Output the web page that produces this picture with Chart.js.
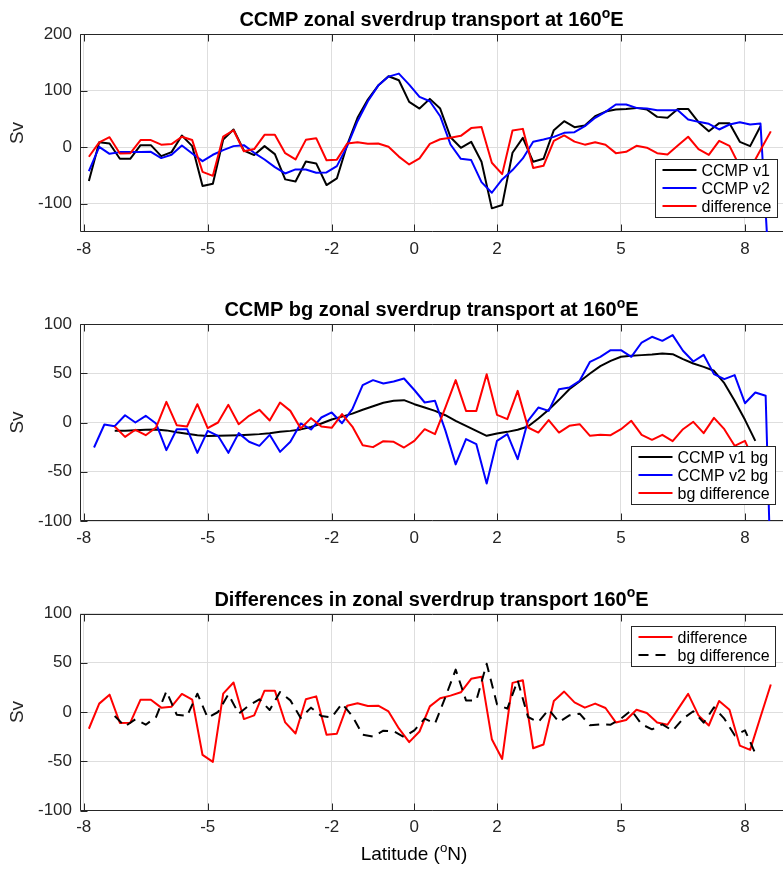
<!DOCTYPE html>
<html><head><meta charset="utf-8">
<script src="https://cdn.jsdelivr.net/npm/chart.js@4.4.0/dist/chart.umd.min.js"></script>
<style>
html,body{margin:0;padding:0;background:#fff;}
#wrap{position:relative;width:783px;height:870px;overflow:hidden;background:#fff;}
canvas{position:absolute;left:0;}
</style></head><body>
<div id="wrap">
<canvas id="c1" width="783" height="290" style="top:0px;width:783px;height:290px"></canvas>
<canvas id="c2" width="783" height="290" style="top:290px;width:783px;height:290px"></canvas>
<canvas id="c3" width="783" height="290" style="top:580px;width:783px;height:290px"></canvas>
</div>
<script>
// ---- data ----
const latA = [-7.875,-7.625,-7.375,-7.125,-6.875,-6.625,-6.375,-6.125,-5.875,-5.625,-5.375,-5.125,-4.875,-4.625,-4.375,-4.125,-3.875,-3.625,-3.375,-3.125,-2.875,-2.625,-2.375,-2.125,-1.875,-1.625,-1.375,-1.125,-0.875,-0.625,-0.375,-0.125,0.125,0.375,0.625,0.875,1.125,1.375,1.625,1.875,2.125,2.375,2.625,2.875,3.125,3.375,3.625,3.875,4.125,4.375,4.625,4.875,5.125,5.375,5.625,5.875,6.125,6.375,6.625,6.875,7.125,7.375,7.625,7.875,8.125,8.375,8.625];
const latB = [-7.75,-7.5,-7.25,-7,-6.75,-6.5,-6.25,-6,-5.75,-5.5,-5.25,-5,-4.75,-4.5,-4.25,-4,-3.75,-3.5,-3.25,-3,-2.75,-2.5,-2.25,-2,-1.75,-1.5,-1.25,-1,-0.75,-0.5,-0.25,0,0.25,0.5,0.75,1,1.25,1.5,1.75,2,2.25,2.5,2.75,3,3.25,3.5,3.75,4,4.25,4.5,4.75,5,5.25,5.5,5.75,6,6.25,6.5,6.75,7,7.25,7.5,7.75,8,8.25,8.5,8.75];

const ccmpV1 = [-60,8.8,6.5,-20.6,-20.6,3.5,3.5,-15.9,-8.8,20.6,1.8,-68.8,-64.7,13.5,31.2,-6,-14,1.8,-12.4,-57,-60.6,-25.3,-28.8,-67,-55.3,4.1,51.8,84.1,108.8,125.3,118.2,80,68.2,85.3,68.2,17.6,-1.2,9.4,-25.9,-108.2,-102.4,-10,16.5,-25.9,-20.6,30,45.9,35.3,38.2,54.7,62.9,66.5,67.6,69.4,66.5,53.5,51.8,67.6,67.6,44.1,28.2,42.4,42.4,9.4,1.8,37,null];
const ccmpV2 = [-42.4,0.6,-11.8,-8.8,-8.8,-8.8,-8.2,-19.4,-13.5,2.9,-11.2,-24.7,-13.5,-5.3,1.8,3.5,-10,-21.8,-35.3,-46.5,-39.4,-39.4,-45.3,-44.7,-33.5,1.8,45.9,81.2,108.8,124.7,130,110.6,88.8,81.2,54.7,4.7,-20.6,-22.9,-61.8,-80.6,-57,-40.6,-20,9.4,13.5,18.2,25.3,26.5,37,51.8,62.4,75.3,75.3,69.4,68.2,65.3,65.3,65.3,48.8,44.7,41.2,31.2,40,44.1,40,41.8,-270];
const difference = [-17,8.5,17.6,-11.2,-11,12.5,12.5,4.4,5.4,18.3,12.5,-43.6,-50.7,18.7,29.9,-7.2,-3.4,21.7,21.7,-10.6,-21.8,12.9,15.9,-23.2,-22.1,6.4,8.8,6.1,6.4,0.6,-16.7,-30.6,-19.8,5.7,13.9,16.6,20,33.7,35.7,-27.6,-47.7,29.6,32.3,-36.8,-33,11.2,20.7,9.8,4.4,8.5,4.1,-10.6,-8.2,2.3,-1,-10.6,-13,2.7,18.4,-3.4,-13.7,11.2,2.3,-34.1,-38.5,-5.1,27.9];

const ccmpV1bg = [null,null,-8.5,-8.3,-7.8,-7.4,-7,-8,-10,-11.5,-13,-13.8,-13.5,-13.3,-13,-12.5,-11.8,-10.8,-9.5,-8.5,-7,-4.5,-1,3,6,9,13,16.5,20,22,22.7,18.6,15.2,11.8,7.4,1.7,-3.4,-8.5,-13.5,-11.2,-9.5,-7.4,-4.1,4.1,12.9,23,33.8,41.6,49.7,57.2,62.6,66.7,67.7,68.4,69,70,69.4,64.3,59.9,56.5,52.5,39.9,22,2.7,-18.6,null,null];
const ccmpV2bg = [-25.4,-2,-3.7,7.4,0,6.8,-1,-28.1,-6.8,-6.8,-30.8,-8.5,-13.5,-30.8,-10.8,-19.6,-23.7,-12.5,-29.8,-19.6,-1,-7.1,5.1,10.2,-0.7,13.5,37.9,43,39.6,41.6,44.7,33,20.3,22,-8,-42.5,-16.9,-22,-61.9,-18.6,-11.8,-37.2,1.7,15.2,11.8,33.8,35.5,42.3,61.6,66.7,73.4,73.4,66.7,81.2,87,82.9,88.7,72.8,61.9,68.7,49.1,44,48.1,19.6,30.5,27.1,-340];
const bgDifference = [null,null,-4.1,-14.6,-7.4,-12.9,-5.1,21,-2.7,-4.1,18.6,-5.8,0,17.9,-1.7,6.8,12.9,2,20.3,11.8,-6.1,4.4,-4.1,-5.4,8.5,-4.1,-23,-25,-19,-19.6,-25.4,-18.6,-6.8,-11.8,15,43,11.8,11.8,49,7.8,3.4,32.1,-5.1,-10.2,2.4,-10.2,-3.4,-1.7,-13.5,-12.5,-12.9,-6.8,1.7,-12.5,-17.6,-12.5,-19,-6.8,0.7,-10.8,4.7,-6.8,-23.7,-18.6,-42,null,null];

const xTickValues = [-8,-5,-2,0,2,5,8];
const yTicksTop = [-100,0,100,200];
const yTicksMid = [-100,-50,0,50,100];

// ---- styles ----
const FONT = '"Liberation Sans", Arial, Helvetica, sans-serif';
const AXIS = '#262626';
const GRID = '#dedede';
const TICK = 7;
const XMIN = -8.09, XMAX = 8.92;

function pts(xs, ys){ return xs.map((x,i)=>({x:x, y:ys[i]})); }

function drawRich(ctx, segs, cx, baseY, size, bold){
  const parts = segs.map(s=>{
    const fs = s.sup ? size*0.7 : size;
    ctx.font = (bold?'bold ':'') + fs + 'px ' + FONT;
    return {s:s, fs:fs, w:ctx.measureText(s.t).width};
  });
  const total = parts.reduce((a,p)=>a+p.w,0);
  let x = cx - total/2;
  ctx.textAlign='left'; ctx.textBaseline='alphabetic'; ctx.fillStyle='#000';
  parts.forEach(p=>{
    ctx.font = (bold?'bold ':'') + p.fs + 'px ' + FONT;
    ctx.fillText(p.s.t, x, p.s.sup ? baseY - size*0.42 : baseY);
    x += p.w;
  });
}

const framePlugin = {
  id:'frame',
  beforeDatasetsDraw(chart){
    const {ctx, chartArea:a, scales:{x,y}} = chart;
    ctx.save();
    ctx.strokeStyle = AXIS; ctx.lineWidth = 1;
    const L = Math.round(a.left)+0.5, T = Math.round(a.top)+0.5, B = Math.round(a.bottom)-0.5, R = a.right+2;
    ctx.beginPath();
    ctx.moveTo(R,B); ctx.lineTo(L,B); ctx.lineTo(L,T); ctx.lineTo(R,T);
    ctx.stroke();
    ctx.beginPath();
    x.ticks.forEach(t=>{
      const px = Math.round(x.getPixelForValue(t.value))+0.5;
      ctx.moveTo(px,B); ctx.lineTo(px,B-TICK);
      ctx.moveTo(px,T); ctx.lineTo(px,T+TICK);
    });
    y.ticks.forEach(t=>{
      const py = Math.round(y.getPixelForValue(t.value))+0.5;
      ctx.moveTo(L,py); ctx.lineTo(L+TICK,py);
    });
    ctx.stroke();
    ctx.restore();
  },
  afterDraw(chart, args, opts){
    const {ctx, chartArea:a} = chart;
    ctx.save();
    if (opts.title) drawRich(ctx, opts.title, (a.left+a.right)/2, a.top-8, 20, true);
    if (opts.xlabel) drawRich(ctx, opts.xlabel, opts.xlabelX, a.bottom + 49.5, 19, false);
    if (opts.legend){
      const lg = opts.legend;
      ctx.font = '16px ' + FONT;
      const tw = Math.max.apply(null, lg.items.map(i=>ctx.measureText(chart.data.datasets[i].label).width));
      const w = Math.round(46 + tw + 6), h = 18*lg.items.length + 4;
      const bx = Math.round(lg.right - w)+0.5, by = Math.round(lg.top)+0.5;
      ctx.fillStyle='#fff'; ctx.fillRect(bx,by,w,h);
      ctx.strokeStyle=AXIS; ctx.lineWidth=1; ctx.strokeRect(bx,by,w,h);
      lg.items.forEach((di,k)=>{
        const ds = chart.data.datasets[di];
        const cy = Math.round(by + 10 + 18*k);
        ctx.beginPath();
        ctx.setLineDash(ds.borderDash || []);
        ctx.strokeStyle = ds.borderColor; ctx.lineWidth = 2;
        ctx.moveTo(bx+7, cy); ctx.lineTo(bx+41, cy); ctx.stroke();
        ctx.setLineDash([]);
        ctx.fillStyle = '#000'; ctx.font = '16px ' + FONT;
        ctx.textAlign='left'; ctx.textBaseline='alphabetic';
        ctx.fillText(ds.label, bx+46, cy+6);
      });
    }
    ctx.restore();
  }
};

function makeChart(id, cfg){
  const tickFont = {family:FONT, size:17};
  return new Chart(document.getElementById(id), {
    type:'line',
    data:{datasets:cfg.datasets},
    options:{
      responsive:false, animation:false, devicePixelRatio:1,
      layout:{padding:{left:0,right:0,top:cfg.top,bottom:0}},
      elements:{point:{radius:0,hoverRadius:0}, line:{tension:0,borderWidth:2,borderJoinStyle:'round',borderCapStyle:'butt'}},
      plugins:{legend:{display:false}, tooltip:{enabled:false}, title:{display:false}, frame:cfg.frame},
      scales:{
        x:{type:'linear', min:XMIN, max:XMAX,
           afterBuildTicks:s=>{ s.ticks = xTickValues.map(v=>({value:v})); },
           afterFit:s=>{ s.height = cfg.xh; },
           ticks:{callback:v=>String(v), font:tickFont, color:AXIS, padding:7, maxRotation:0, autoSkip:false},
           grid:{color:GRID, lineWidth:1, drawTicks:false},
           border:{display:false}},
        y:{type:'linear', min:cfg.ymin, max:cfg.ymax,
           afterBuildTicks:s=>{ s.ticks = cfg.yticks.map(v=>({value:v})); },
           afterFit:s=>{ s.width = 80; },
           ticks:{callback:v=>String(v), font:tickFont, color:AXIS, padding:8, autoSkip:false},
           grid:{color:GRID, lineWidth:1, drawTicks:false},
           border:{display:false},
           title:{display:true, text:'Sv', font:{family:FONT, size:19}, color:AXIS, padding:{top:6,bottom:0}}}
      }
    },
    plugins:[framePlugin]
  });
}

function ds(label, xs, ys, color, order, dash){
  const d = {label:label, data:pts(xs,ys), borderColor:color, backgroundColor:color, borderWidth:2, fill:false, order:order, clip:0, spanGaps:false};
  if (dash) d.borderDash = dash;
  return d;
}

makeChart('c1', {
  top:34, xh:58, ymin:-150, ymax:200, yticks:yTicksTop,
  datasets:[
    ds('CCMP v1', latA, ccmpV1, '#000000', 3),
    ds('CCMP v2', latA, ccmpV2, '#0000ff', 2),
    ds('difference', latA, difference, '#ff0000', 1)
  ],
  frame:{title:[{t:'CCMP zonal sverdrup transport at 160'},{t:'o',sup:true},{t:'E'}], legend:{items:[0,1,2], right:777, top:159}}
});

makeChart('c2', {
  top:34, xh:59, ymin:-100, ymax:100, yticks:yTicksMid,
  datasets:[
    ds('CCMP v1 bg', latB, ccmpV1bg, '#000000', 3),
    ds('CCMP v2 bg', latB, ccmpV2bg, '#0000ff', 2),
    ds('bg difference', latB, bgDifference, '#ff0000', 1)
  ],
  frame:{title:[{t:'CCMP bg zonal sverdrup transport at 160'},{t:'o',sup:true},{t:'E'}], legend:{items:[0,1,2], right:775, top:156}}
});

makeChart('c3', {
  top:33.5, xh:59.5, ymin:-100, ymax:100, yticks:yTicksMid,
  datasets:[
    ds('difference', latA, difference, '#ff0000', 2),
    ds('bg difference', latB, bgDifference, '#000000', 1, [10,7])
  ],
  frame:{title:[{t:'Differences in zonal sverdrup transport 160'},{t:'o',sup:true},{t:'E'}],
         legend:{items:[0,1], right:775, top:46},
         xlabel:[{t:'Latitude ('},{t:'o',sup:true},{t:'N)'}], xlabelX:414}
});
</script>
</body></html>
